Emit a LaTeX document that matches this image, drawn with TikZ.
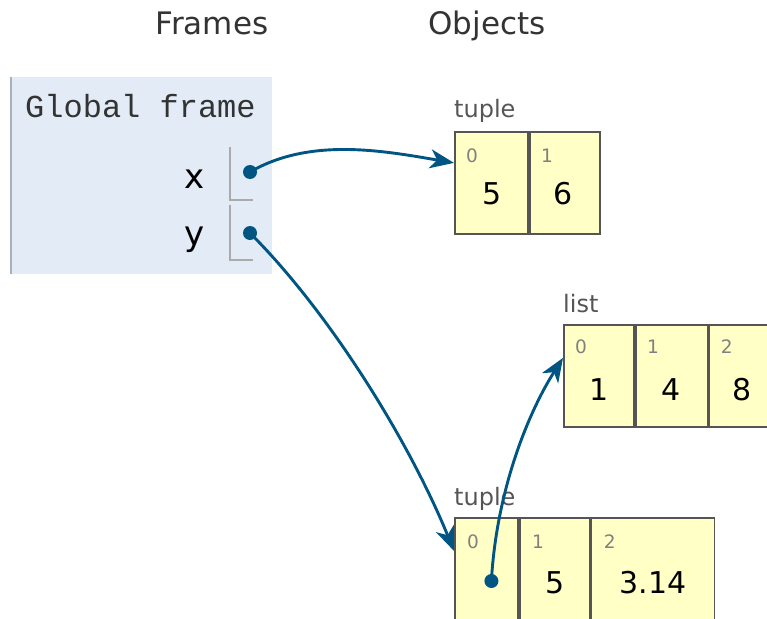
\documentclass[tikz,border=0pt]{standalone}
\usepackage{fontspec}
\setmainfont{DejaVu Sans}
\newfontfamily\codefont{Liberation Mono}
\usetikzlibrary{arrows.meta}
\definecolor{framefill}{HTML}{E2EBF6}
\definecolor{frameedge}{HTML}{A6B3B6}
\definecolor{heapfill}{HTML}{FFFFC6}
\definecolor{heapedge}{HTML}{555555}
\definecolor{ptrcol}{HTML}{005583}
\definecolor{headcol}{HTML}{333333}
\definecolor{typecol}{HTML}{555555}
\definecolor{idxcol}{HTML}{808080}
\definecolor{slotcol}{HTML}{AAAAAA}
\tikzset{
  heading/.style={font=\fontsize{31}{36}\selectfont, text=headcol, inner sep=0, anchor=base},
  typelab/.style={font=\fontsize{24}{28}\selectfont, text=typecol, inner sep=0, anchor=base west},
  cell/.style={draw=heapedge, fill=heapfill, line width=1.8pt, minimum height=102pt, inner sep=0, anchor=north west},
  idx/.style={font=\fontsize{18.5}{22}\selectfont, text=idxcol, inner sep=0, anchor=base west},
  val/.style={font=\fontsize{30}{34}\selectfont, text=black, inner sep=0, anchor=base},
  varlab/.style={font=\fontsize{34}{38}\selectfont, text=black, inner sep=0, anchor=base east},
  ptrdot/.style={circle, fill=ptrcol, inner sep=0, minimum size=14pt},
  ptr/.style={draw=ptrcol, line width=2.9pt, -{Stealth[length=24pt,width=19pt,inset=7pt]}},
  slot/.style={draw=slotcol, line width=1.5pt}
}
\begin{document}
\begin{tikzpicture}[x=1pt,y=-1pt]
\useasboundingbox (0,0) rectangle (767,618);
\clip (0,0) rectangle (767,618);
% headings
\node[heading] (frames) at (212,35) {Frames};
\node[heading] (objects) at (487,35) {Objects};
% global frame
\node[fill=framefill, inner sep=0, minimum width=261pt, minimum height=197pt, anchor=north west] (gframe) at (11,77) {};
\draw[draw=frameedge, line width=2.5pt] (gframe.north west) -- (gframe.south west);
\node[font=\fontsize{32}{36}\codefont, text=headcol, inner sep=0, anchor=base west] (gtitle) at (25,117) {Global frame};
\node[varlab] (xlab) at (205,188) {x};
\node[varlab] (ylab) at (205,245) {y};
\draw[slot] (230,147) |- (253,200);
\draw[slot] (230,205) |- (253,260);
\node[ptrdot] (xd) at (250,172) {};
\node[ptrdot] (yd) at (250,233) {};
% tuple 1
\node[typelab] (t1lab) at (454,117) {tuple};
\node[cell, minimum width=73pt] (t1c0) at (454,131) {};
\node[cell, minimum width=70pt] (t1c1) at (t1c0.north east) {};
\node[idx] (t1i0) at ([shift={(12,31)}]t1c0.north west) {0};
\node[idx] (t1i1) at ([shift={(12,31)}]t1c1.north west) {1};
\node[val] (t1v0) at ([shift={(1,73)}]t1c0.north) {5};
\node[val] (t1v1) at ([shift={(-2,73)}]t1c1.north) {6};
% list
\node[typelab] (llab) at (563,312) {list};
\node[cell, minimum width=70pt] (lc0) at (563,324) {};
\node[cell, minimum width=72pt] (lc1) at (lc0.north east) {};
\node[cell, minimum width=72pt] (lc2) at (lc1.north east) {};
\node[idx] (li0) at ([shift={(12,29)}]lc0.north west) {0};
\node[idx] (li1) at ([shift={(12,29)}]lc1.north west) {1};
\node[idx] (li2) at ([shift={(12,29)}]lc2.north west) {2};
\node[val] (lv0) at ([shift={(0,76)}]lc0.north) {1};
\node[val] (lv1) at ([shift={(-1,76)}]lc1.north) {4};
\node[val] (lv2) at ([shift={(-3,76)}]lc2.north) {8};
% tuple 2
\node[typelab] (t2lab) at (454,505) {tuple};
\node[cell, minimum width=63pt] (t2c0) at (454,517) {};
\node[cell, minimum width=70pt] (t2c1) at (t2c0.north east) {};
\node[cell, minimum width=123pt] (t2c2) at (t2c1.north east) {};
\node[idx] (t2i0) at ([shift={(13,31)}]t2c0.north west) {0};
\node[idx] (t2i1) at ([shift={(13,31)}]t2c1.north west) {1};
\node[idx] (t2i2) at ([shift={(13,31)}]t2c2.north west) {2};
\node[ptrdot] (t2d) at ([shift={(5,64)}]t2c0.north) {};
\node[val] (t2v1) at ([shift={(0,76)}]t2c1.north) {5};
\node[val] (t2v2) at ([shift={(0,76)}]t2c2.north) {3.14};
% pointers
\draw[ptr] (xd.center) .. controls +(60,-35) and +(-70,-12) .. ([yshift=20pt]t1c0.west);
\draw[ptr] (yd.center) .. controls +(80,80) and +(-45,-110) .. ([yshift=18pt]t2c0.west);
\draw[ptr] (t2d.center) .. controls +(5,-90) and +(-35,55) .. ([yshift=18pt]lc0.west);
\end{tikzpicture}
\end{document}
